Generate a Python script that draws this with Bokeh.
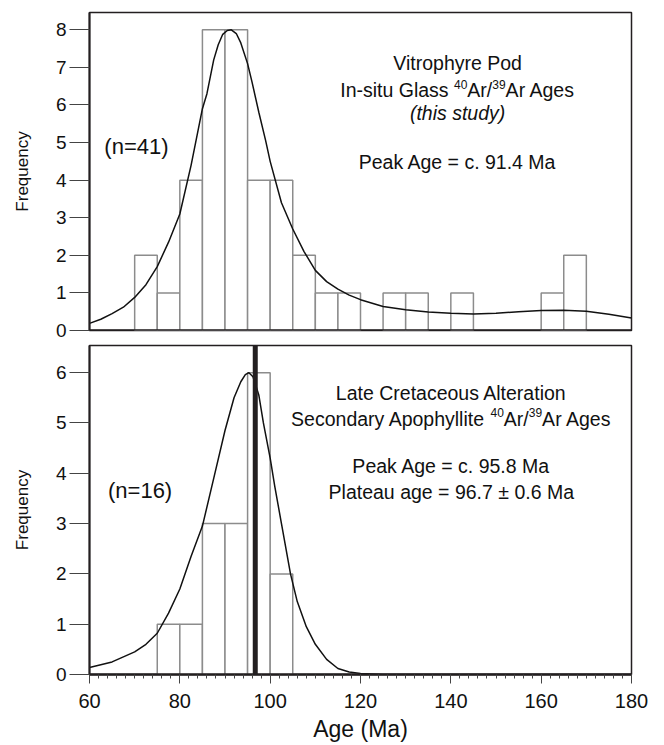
from bokeh.plotting import figure
from bokeh.layouts import column
from bokeh.models import Range1d, Label, SingleIntervalTicker, Span
from bokeh.embed import file_html
from bokeh.resources import INLINE

# ---------------- data ----------------
bin_width = 5
# top panel: vitrophyre pod glass ages
top_bin_left = [70, 75, 80, 85, 90, 95, 100, 105, 110, 115, 125, 130, 140, 160, 165]
top_counts = [2, 1, 4, 8, 8, 4, 4, 2, 1, 1, 1, 1, 1, 1, 2]
top_curve_age = [60, 62.5, 65, 67.5, 70, 72.5, 75, 77.5, 80, 82.5, 85, 86, 87.5, 88.5, 89.5,
                 90.5, 91.4, 92.5, 93.5, 95, 96, 97.5, 99, 100, 102.5, 105, 107.5, 110,
                 112.5, 115, 117.5, 120, 125, 130, 135, 140, 145, 150, 155, 160, 165, 170,
                 175, 180]
top_curve_val = [0.19, 0.30, 0.45, 0.62, 0.88, 1.22, 1.70, 2.35, 3.10, 4.40, 5.90, 6.30, 7.20,
                 7.60, 7.88, 7.98, 8.00, 7.90, 7.65, 7.10, 6.60, 5.80, 5.05, 4.50, 3.40, 2.70,
                 2.10, 1.60, 1.30, 1.10, 0.94, 0.82, 0.64, 0.55, 0.49, 0.46, 0.44, 0.46, 0.50,
                 0.53, 0.54, 0.51, 0.43, 0.33]

# bottom panel: apophyllite ages
bot_bin_left = [75, 80, 85, 90, 95, 100]
bot_counts = [1, 1, 3, 3, 6, 2]
bot_curve_age = [60, 65, 70, 72.5, 75, 77.5, 80, 82.5, 85, 87.5, 90, 92, 93.5, 94.5, 95.3,
                 96.2, 97.5, 98.5, 100, 101, 102.5, 104.5, 106, 108, 110, 112.5, 115, 117.5,
                 120, 125, 180]
bot_curve_val = [0.14, 0.25, 0.45, 0.60, 0.82, 1.22, 1.70, 2.35, 2.95, 3.90, 4.85, 5.50, 5.82,
                 5.96, 6.00, 5.92, 5.55, 5.00, 4.30, 3.75, 3.00, 2.00, 1.45, 0.95, 0.60, 0.30,
                 0.12, 0.05, 0.02, 0.0, 0.0]
plateau_age = 96.7

x_range = (60, 180)
top_ymax = 8.46
bot_ymax = 6.54

FONT = "Liberation Sans"
BAR_COLOR = "#8c8c8c"
DARK = "#231f20"
TXT_SIZE = 19.5
SUP_SIZE = 12.0

# approximate Liberation Sans advance widths (em)
W = {' ': .278, 'I': .278, 'n': .556, '-': .333, 's': .5, 'i': .222, 't': .278, 'u': .556,
     'G': .778, 'l': .222, 'a': .556, 'A': .667, 'r': .333, '/': .278, 'g': .556, 'e': .556,
     'S': .667, 'c': .5, 'o': .556, 'd': .556, 'y': .5, 'p': .556, 'h': .556}


def text_width(s, size):
    return sum(W.get(ch, .556) for ch in s) * size


def base_fig(ymax, frame_h, border_top, border_bottom):
    p = figure(frame_width=542, frame_height=frame_h, x_range=Range1d(*x_range),
               y_range=Range1d(0, ymax), output_backend="svg", toolbar_location=None,
               min_border_left=89, min_border_right=20, min_border_top=border_top,
               min_border_bottom=border_bottom)
    p.xgrid.visible = False
    p.ygrid.visible = False
    p.outline_line_color = DARK
    p.outline_line_width = 1.5
    p.outline_line_alpha = 1.0
    p.background_fill_color = "white"
    p.border_fill_color = "white"
    ya = p.yaxis[0]
    ya.ticker = SingleIntervalTicker(interval=1, num_minor_ticks=0)
    ya.major_tick_out = 20
    ya.major_tick_in = 0
    ya.major_tick_line_color = "#444444"
    ya.major_tick_line_width = 1.2
    ya.axis_line_color = DARK
    ya.axis_line_width = 2
    ya.major_label_standoff = 3
    ya.major_label_text_font = FONT
    ya.major_label_text_font_size = "19px"
    ya.major_label_text_color = "#111111"
    ya.axis_label = "Frequency"
    ya.axis_label_text_font = FONT
    ya.axis_label_text_font_size = "17px"
    ya.axis_label_text_font_style = "normal"
    ya.axis_label_text_color = "#111111"
    ya.axis_label_standoff = 21
    return p


def add_text(p, x, y, text, size=TXT_SIZE, style="normal"):
    p.add_layout(Label(x=x, y=y, text=text, x_units="data", y_units="data", text_font=FONT,
                       text_font_size=f"{size}px", text_font_style=style, text_align="center",
                       text_baseline="middle", text_color="#111111"))


def add_rich(p, x, y, segments):
    # segments: list of (text, is_superscript); centred at data x
    widths = [text_width(s, SUP_SIZE if sup else TXT_SIZE) for s, sup in segments]
    off = -sum(widths) / 2.0
    for (s, sup), w in zip(segments, widths):
        p.add_layout(Label(x=x, y=y, x_offset=off, y_offset=(6 if sup else 0), text=s,
                           x_units="data", y_units="data", text_font=FONT,
                           text_font_size=f"{SUP_SIZE if sup else TXT_SIZE}px",
                           text_align="left", text_baseline="middle", text_color="#111111"))
        off += w


# ---------------- top panel ----------------
pt = base_fig(top_ymax, 318, 12, 12)
pt.xaxis.visible = False
pt.quad(left=top_bin_left, right=[v + bin_width for v in top_bin_left], bottom=0, top=top_counts,
        fill_color="white", line_color=BAR_COLOR, line_width=1.5)
pt.line(top_curve_age, top_curve_val, line_color="#111111", line_width=1.5)
pt.add_layout(Span(location=0, dimension="width", line_color=DARK, line_width=2.5))

add_text(pt, 141.5, 7.11, "Vitrophyre Pod")
add_rich(pt, 141.5, 6.39, [("In-situ Glass ", False), ("40", True), ("Ar/", False),
                           ("39", True), ("Ar Ages", False)])
add_text(pt, 141.5, 5.78, "(this study)", style="italic")
add_text(pt, 141.5, 4.49, "Peak Age = c. 91.4 Ma")
add_text(pt, 70.4, 4.89, "(n=41)", size=22)

# ---------------- bottom panel ----------------
pb = base_fig(bot_ymax, 329, 3, 6)
xa = pb.xaxis[0]
xa.ticker = SingleIntervalTicker(interval=20, num_minor_ticks=10)
xa.major_tick_out = 9
xa.major_tick_in = 0
xa.minor_tick_out = 4
xa.minor_tick_in = 0
xa.major_tick_line_color = "#444444"
xa.minor_tick_line_color = "#444444"
xa.axis_line_color = DARK
xa.axis_line_width = 2.5
xa.major_label_standoff = 10
xa.major_label_text_font = FONT
xa.major_label_text_font_size = "20px"
xa.major_label_text_color = "#111111"
xa.axis_label = "Age (Ma)"
xa.axis_label_text_font = FONT
xa.axis_label_text_font_size = "23px"
xa.axis_label_text_font_style = "normal"
xa.axis_label_text_color = "#111111"
xa.axis_label_standoff = 5

pb.quad(left=bot_bin_left, right=[v + bin_width for v in bot_bin_left], bottom=0, top=bot_counts,
        fill_color="white", line_color=BAR_COLOR, line_width=1.5)
pb.line(bot_curve_age, bot_curve_val, line_color="#111111", line_width=1.5)
pb.add_layout(Span(location=plateau_age, dimension="height", line_color=DARK, line_width=5))

add_text(pb, 140.1, 5.59, "Late Cretaceous Alteration")
add_rich(pb, 140.1, 5.08, [("Secondary Apophyllite ", False), ("40", True), ("Ar/", False),
                           ("39", True), ("Ar Ages", False)])
add_text(pb, 140.1, 4.14, "Peak Age = c. 95.8 Ma")
add_text(pb, 140.1, 3.63, "Plateau age = 96.7 \u00b1 0.6 Ma")
add_text(pb, 71.2, 3.66, "(n=16)", size=22)

layout = column(pt, pb, spacing=0)
open("out.html", "w").write(file_html(layout, INLINE))
